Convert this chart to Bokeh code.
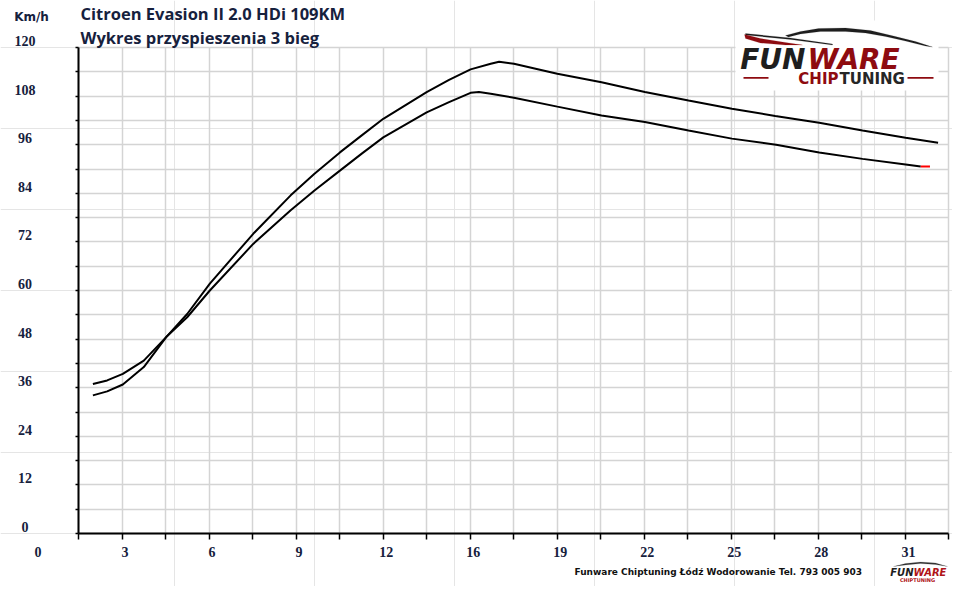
from bokeh.plotting import figure
from bokeh.models import (Range1d, FixedTicker, Label, BoxAnnotation, PolyAnnotation,
                          LinearAxis, Grid)
from bokeh.embed import file_html
from bokeh.resources import INLINE

# ---------------- data ----------------
time_tuned = [2.07, 2.58, 3.14, 3.89, 4.69, 5.44, 6.25, 7.80, 9.14, 9.99, 10.90, 11.68,
              12.45, 14.00, 14.80, 15.57, 16.29, 16.59, 17.12, 18.67, 20.25, 21.80, 23.36,
              24.91, 26.46, 28.03, 29.58, 31.12, 32.28]
speed_tuned = [34.1, 35.1, 36.8, 41.1, 48.5, 54.2, 61.7, 74.0, 83.5, 88.8, 94.1, 98.3,
               102.4, 109.0, 112.0, 114.6, 116.0, 116.5, 116.0, 113.5, 111.4, 109.0, 106.9,
               104.9, 103.1, 101.4, 99.5, 97.7, 96.5]

time_stock = [2.07, 2.58, 3.14, 3.89, 4.69, 5.44, 6.25, 7.80, 9.14, 9.99, 10.90, 11.68,
              12.45, 14.00, 14.80, 15.57, 15.87, 16.29, 17.12, 18.67, 20.25, 21.80, 23.36,
              24.91, 26.49, 28.03, 29.58, 31.12, 31.66, 31.99]
speed_stock = [36.9, 37.8, 39.4, 42.7, 48.5, 53.4, 60.0, 71.5, 79.8, 84.7, 89.6, 93.8,
               97.8, 104.0, 106.5, 108.8, 109.0, 108.6, 107.6, 105.4, 103.2, 101.6, 99.5,
               97.5, 96.0, 94.1, 92.5, 91.1, 90.6, 90.6]

x_tick_labels = ["0", "3", "6", "9", "12", "16", "19", "22", "25", "28", "31"]
y_tick_values = [0, 12, 24, 36, 48, 60, 72, 84, 96, 108, 120]
y_tick_labels = ["0", "12", "24", "36", "48", "60", "72", "84", "96", "108", "120"]

title_line1 = "Citroen Evasion II 2.0 HDi 109KM"
title_line2 = "Wykres przyspieszenia 3 bieg"
y_unit = "Km/h"
footer_text = "Funware Chiptuning Łódź Wodorowanie Tel. 793 005 903"

# ---------------- layout ----------------
GRID_DT = 14 / 9          # seconds per vertical grid interval
N_XGRID = 20
X0, X1 = GRID_DT, GRID_DT * (N_XGRID + 1)
Y0, Y1 = 0, 120
W, H = 952, 586
# pixel box of the plotting area inside the canvas
PL, PR, PT, PB = 78.0, 948.4, 47.0, 533.0
SX = (X1 - X0) / (PR - PL)
SY = (Y1 - Y0) / (PB - PT)
XR = Range1d(X0 - PL * SX, X0 + (W - PL) * SX)
YR = Range1d(Y0 - (H - PB) * SY, Y1 + PT * SY)

NAVY = "#16213d"


def dx(px):
    return X0 + (px - PL) * SX


def dy(py):
    return Y1 - (py - PT) * SY


p = figure(width=W, height=H, x_range=XR, y_range=YR,
           output_backend="svg", toolbar_location=None,
           x_axis_location=None, y_axis_location=None,
           min_border_left=0, min_border_right=0, min_border_top=0, min_border_bottom=0)
p.background_fill_color = "white"
p.border_fill_color = "white"
p.outline_line_color = None

xticks = [GRID_DT * (i + 1) for i in range(N_XGRID + 1)]
yticks = [6 * i for i in range(21)]

# grid, limited to the plotting box
try:
    xg = Grid(dimension=0, ticker=FixedTicker(ticks=xticks), cross_bounds=(Y0, Y1))
    yg = Grid(dimension=1, ticker=FixedTicker(ticks=yticks), cross_bounds=(X0, X1))
    for g in (xg, yg):
        g.grid_line_color = "#d4d4d4"
        g.grid_line_width = 1.5
        p.add_layout(g)
except AttributeError:
    p.segment(x0=xticks, y0=[Y0] * len(xticks), x1=xticks, y1=[Y1] * len(xticks),
              line_color="#d4d4d4", line_width=1.5, level="underlay")
    p.segment(x0=[X0] * len(yticks), y0=yticks, x1=[X1] * len(yticks), y1=yticks,
              line_color="#d4d4d4", line_width=1.5, level="underlay")

xaxis = LinearAxis(ticker=FixedTicker(ticks=xticks), fixed_location=Y0, bounds=(X0, X1))
yaxis = LinearAxis(ticker=FixedTicker(ticks=yticks), fixed_location=X0, bounds=(Y0, Y1))
for ax, out in ((xaxis, 6), (yaxis, 3)):
    ax.axis_line_color = "black"
    ax.axis_line_width = 2
    ax.major_tick_in = 0
    ax.major_tick_out = out
    ax.major_tick_line_color = "black"
    ax.major_tick_line_width = 1.5
    ax.minor_tick_out = 0
    ax.minor_tick_in = 0
    ax.major_label_text_color = None
p.add_layout(xaxis, "below")
p.add_layout(yaxis, "left")

# ---------------- curves ----------------
p.line(time_stock[:-1], speed_stock[:-1], line_color="black", line_width=2)
p.line(time_stock[-2:], speed_stock[-2:], line_color="red", line_width=2)
p.line(time_tuned, speed_tuned, line_color="black", line_width=2)

# ---------------- tick labels ----------------
for i, t in enumerate(x_tick_labels):
    p.add_layout(Label(x=2 * i * GRID_DT, y=Y0, text=t, x_offset=3, y_offset=-18,
                       text_align="center", text_baseline="middle",
                       text_font="Liberation Serif", text_font_style="bold",
                       text_font_size="14px", text_color=NAVY))
for v, t in zip(y_tick_values, y_tick_labels):
    p.add_layout(Label(x=X0, y=v, text=t, x_offset=-53.5, y_offset=6.5,
                       text_align="center", text_baseline="middle",
                       text_font="Liberation Serif", text_font_style="bold",
                       text_font_size="14px", text_color=NAVY))


def page_label(px, py, text, **kw):
    opts = dict(text_align="left", text_baseline="middle", text_font="DejaVu Sans",
                text_font_style="bold", text_font_size="12px", text_color=NAVY)
    opts.update(kw)
    p.add_layout(Label(x=dx(px), y=dy(py), text=text, **opts))


page_label(31, 16, y_unit, text_align="center", text_font_size="12px")
page_label(80, 12.5, title_line1, text_font="Open Sans", text_font_size="16.5px")
page_label(80, 36.5, title_line2, text_font="Open Sans", text_font_size="16.5px")
page_label(574, 571, footer_text, text_font_size="9px", text_color="#111111")

# ---------------- big logo (top right) ----------------
p.add_layout(BoxAnnotation(left=dx(735), right=dx(938), bottom=dy(90), top=dy(20),
                           fill_color="white", fill_alpha=1, line_color=None))
LOGO_RED = "#8e0b10"
LOGO_DARK = "#1e1e1e"


def poly(pts, color):
    p.add_layout(PolyAnnotation(xs=[dx(a) for a, b in pts], ys=[dy(b) for a, b in pts],
                                fill_color=color, fill_alpha=1, line_color=color,
                                line_width=0.5))


# car silhouette: roof line, hood line and red swoosh
poly([(785, 35), (800, 31), (818, 28), (845, 27.5), (870, 30), (895, 36), (915, 41),
      (932, 46.5), (925, 45.5), (905, 40.5), (885, 36), (865, 32.5), (845, 31), (820, 31),
      (800, 33.5), (788, 36.5)], LOGO_DARK)
poly([(745, 33), (790, 37.5), (832, 43.5), (832, 44.5), (790, 39), (745, 34.5)], LOGO_DARK)
poly([(744, 34), (760, 38), (785, 42), (802, 44.5), (785, 44.5), (760, 42.5), (745, 38)],
     LOGO_RED)

page_label(805, 59.3, "FUN", text_align="right", text_font_style="bold italic",
           text_font_size="28px", text_color=LOGO_DARK)
page_label(807, 59.3, "WARE", text_align="left", text_font_style="bold italic",
           text_font_size="28px", text_color=LOGO_RED)
page_label(838, 78, "CHIP", text_align="right", text_font_size="15px", text_color=LOGO_RED)
page_label(839, 78, "TUNING", text_align="left", text_font_size="15px", text_color="#262626")
p.add_layout(BoxAnnotation(left=dx(743), right=dx(768), bottom=dy(78.2), top=dy(76.6),
                           fill_color=LOGO_RED, fill_alpha=1, line_color=None))
p.add_layout(BoxAnnotation(left=dx(907), right=dx(933), bottom=dy(78.2), top=dy(76.6),
                           fill_color=LOGO_RED, fill_alpha=1, line_color=None))

# ---------------- small logo (bottom right) ----------------
poly([(893, 566), (905, 563), (920, 561.5), (935, 562.5), (947, 566), (935, 564),
      (920, 563), (905, 564.5)], "#333333")
page_label(913, 571.5, "FUN", text_align="right", text_font_style="bold italic",
           text_font_size="10px", text_color=LOGO_DARK)
page_label(913, 571.5, "WARE", text_align="left", text_font_style="bold italic",
           text_font_size="10px", text_color="#b01418")
page_label(917, 579, "CHIPTUNING", text_align="center", text_font_size="5px",
           text_color="#b01418")

open("out.html", "w").write(file_html(p, INLINE))
